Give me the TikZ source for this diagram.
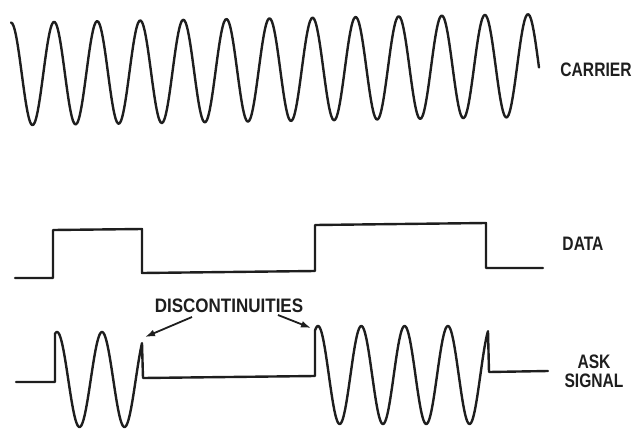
\documentclass[tikz,border=0pt]{standalone}
\usepackage{fontspec}
\setmainfont{Liberation Sans}
\usetikzlibrary{arrows.meta}
\definecolor{ink}{HTML}{1E1E1E}
\tikzset{
  wave/.style={draw=ink, line width=2.4pt, line join=round, line cap=round},
  lbl/.style={font=\bfseries\fontsize{19.5}{19}\selectfont, text=ink, xscale=0.8, inner sep=0pt, align=center},
  pointer/.style={draw=ink, line width=1.8pt, -{Latex[length=10pt,width=7pt]}}
}
\begin{document}
\begin{tikzpicture}[x=1pt,y=-1pt]
\path[use as bounding box] (0,0) rectangle (638,429);
% carrier
\draw[wave] plot[domain=11:539, samples=400, smooth]
  (\x, {74 - (\x-11)*0.0161 - 51.5*cos(8.3565*(\x-11))});
\node[lbl] (carrier) at (596,70) {CARRIER};
% data
\draw[wave] (15,278) -- (53,278) -- (53,230) -- (142,229) -- (142,273)
  -- (315,271) -- (315,225) -- (486,223) -- (486,268) -- (543,268);
\node[lbl] (data) at (583,244) {DATA};
% ASK signal
\draw[wave] (16,382) -- (55,382) --
  plot[domain=55:142, samples=150, smooth] (\x, {379.5 - 47.5*cos(8*(\x-57))})
  -- (143,378) -- (315,376) --
  plot[domain=315:488, samples=250, smooth] (\x, {375 - 49*cos(8.314*(\x-318))})
  -- (489,372) -- (548,371);
\node[lbl] (ask) at (594,371) {ASK\\SIGNAL};
% discontinuities
\node[lbl, xscale=1.09] (disc) at (229,305.5) {DISCONTINUITIES};
\coordinate (s1) at (192,317);
\coordinate (t1) at (145,337);
\coordinate (s2) at (278,315);
\coordinate (t2) at (311,328);
\draw[pointer] (s1) -- (t1);
\draw[pointer] (s2) -- (t2);
\end{tikzpicture}
\end{document}
